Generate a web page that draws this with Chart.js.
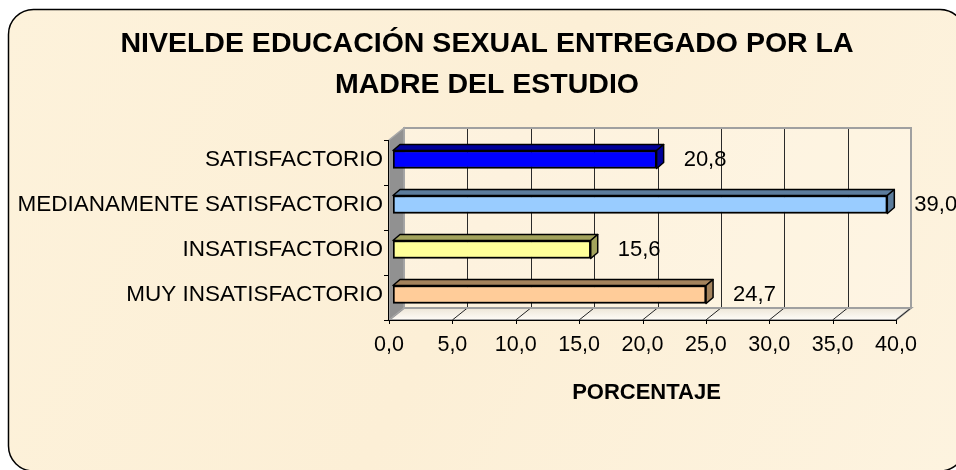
<!DOCTYPE html>
<html><head><meta charset="utf-8">
<script src="https://cdn.jsdelivr.net/npm/chart.js@4/dist/chart.umd.min.js"></script>
<style>html,body{margin:0;padding:0;background:#fff;}#wrap{width:956px;height:470px;}</style>
</head><body><div id="wrap"><canvas id="c" width="956" height="470"></canvas></div>
<script>
const categories = ['SATISFACTORIO', 'MEDIANAMENTE SATISFACTORIO', 'INSATISFACTORIO', 'MUY INSATISFACTORIO'];
const percentages = [20.8, 39.0, 15.6, 24.7];
const axisTicks = [0, 5, 10, 15, 20, 25, 30, 35, 40];
const titleLines = ['NIVELDE EDUCACIÓN SEXUAL ENTREGADO POR LA', 'MADRE DEL ESTUDIO'];
const axisTitle = 'PORCENTAJE';

const fmt = v => Number(v).toFixed(1).replace('.', ',');
const FONT = '"Liberation Sans", Arial, sans-serif';
const FX = -4, FY = 3, DX = 15, DY = -12;   // front plane offset and wall depth
const BDX = 7, BDY = -6;                    // bar depth
const faceColors = ['#00009A', '#5C7C9C', '#A3A35C', '#A3825C'];

const bgPlugin = {
  id: 'bg',
  beforeDraw(chart) {
    const ctx = chart.ctx;
    ctx.save();
    ctx.fillStyle = '#ffffff';
    ctx.fillRect(0, 0, chart.width, chart.height);
    const l = 8.5, t = 9.5, r = 965, b = 471, rad = 25;
    ctx.beginPath();
    ctx.moveTo(l + rad, t);
    ctx.lineTo(r - rad, t);
    ctx.arcTo(r, t, r, t + rad, rad);
    ctx.lineTo(r, b - rad);
    ctx.arcTo(r, b, r - rad, b, rad);
    ctx.lineTo(l + rad, b);
    ctx.arcTo(l, b, l, b - rad, rad);
    ctx.lineTo(l, t + rad);
    ctx.arcTo(l, t, l + rad, t, rad);
    ctx.closePath();
    const g = ctx.createLinearGradient(0, 0, 956, 470);
    g.addColorStop(0, '#FDF2DB');
    g.addColorStop(0.5, '#FCEFD6');
    g.addColorStop(1, '#FDF3DF');
    ctx.fillStyle = g;
    ctx.fill();
    ctx.lineWidth = 1.5;
    ctx.strokeStyle = '#000';
    ctx.stroke();
    ctx.restore();
  }
};

const framePlugin = {
  id: 'frame3d',
  beforeDatasetsDraw(chart) {
    const ctx = chart.ctx, a = chart.chartArea, xs = chart.scales.x;
    const px = v => xs.getPixelForValue(v);
    const lo = axisTicks[0], hi = axisTicks[axisTicks.length - 1];
    const fx0 = px(lo) + FX, fx1 = px(hi) + FX, fy0 = a.top + FY, fy1 = a.bottom + FY;
    const bx0 = fx0 + DX, bx1 = fx1 + DX, by0 = fy0 + DY, by1 = fy1 + DY;
    ctx.save();
    ctx.fillStyle = 'rgba(255,250,238,0.35)';
    ctx.fillRect(bx0, by0, bx1 - bx0, by1 - by0);
    ctx.strokeStyle = '#2a2a2a';
    ctx.lineWidth = 1;
    axisTicks.forEach(v => {
      const X = Math.round(px(v) + FX + DX) + 0.5;
      ctx.beginPath(); ctx.moveTo(X, by0); ctx.lineTo(X, by1); ctx.stroke();
    });
    ctx.beginPath();
    ctx.moveTo(fx0, fy1); ctx.lineTo(bx0, by1); ctx.lineTo(bx1, by1); ctx.lineTo(fx1, fy1); ctx.closePath();
    const fg = ctx.createLinearGradient(0, by1, 0, fy1);
    fg.addColorStop(0, 'rgba(235,228,214,0.9)');
    fg.addColorStop(1, 'rgba(255,255,255,0.8)');
    ctx.fillStyle = fg; ctx.fill();
    ctx.strokeStyle = '#a0a0a0'; ctx.lineWidth = 2; ctx.stroke();
    ctx.strokeStyle = '#222'; ctx.lineWidth = 1;
    axisTicks.forEach(v => {
      const X = px(v) + FX;
      ctx.beginPath(); ctx.moveTo(X, fy1); ctx.lineTo(X + DX, by1); ctx.stroke();
    });
    ctx.strokeStyle = '#a0a0a0'; ctx.lineWidth = 2;
    ctx.strokeRect(bx0, by0, bx1 - bx0, by1 - by0);
    ctx.beginPath();
    ctx.moveTo(fx0, fy0); ctx.lineTo(bx0, by0); ctx.lineTo(bx0, by1); ctx.lineTo(fx0, fy1); ctx.closePath();
    ctx.fillStyle = '#919191'; ctx.fill();
    ctx.strokeStyle = '#a8a8a8'; ctx.lineWidth = 1.5; ctx.stroke();
    ctx.strokeStyle = '#000'; ctx.lineWidth = 1;
    ctx.beginPath(); ctx.moveTo(fx0 - 0.5, fy0); ctx.lineTo(fx0 - 0.5, fy1 + 0.5); ctx.lineTo(fx1, fy1 + 0.5); ctx.stroke();
    axisTicks.forEach(v => {
      const X = Math.round(px(v) + FX) + 0.5;
      ctx.beginPath(); ctx.moveTo(X, fy1); ctx.lineTo(X, fy1 + 4); ctx.stroke();
    });
    const n = categories.length;
    for (let i = 0; i <= n; i++) {
      const Y = Math.round(fy0 + i * (fy1 - fy0) / n) + 0.5;
      ctx.beginPath(); ctx.moveTo(fx0 - 5, Y); ctx.lineTo(fx0, Y); ctx.stroke();
    }
    ctx.restore();
  },
  afterDatasetsDraw(chart) {
    const ctx = chart.ctx;
    const meta = chart.getDatasetMeta(0);
    ctx.save();
    meta.data.forEach((bar, i) => {
      const p = bar.getProps(['x', 'y', 'base', 'height'], true);
      const top = p.y - p.height / 2, bottom = p.y + p.height / 2;
      ctx.lineJoin = 'round';
      ctx.strokeStyle = '#000'; ctx.lineWidth = 1.5;
      ctx.fillStyle = faceColors[i];
      ctx.beginPath();
      ctx.moveTo(p.base, top); ctx.lineTo(p.base + BDX, top + BDY); ctx.lineTo(p.x + BDX, top + BDY); ctx.lineTo(p.x, top); ctx.closePath();
      ctx.fill(); ctx.stroke();
      ctx.beginPath();
      ctx.moveTo(p.x, top); ctx.lineTo(p.x + BDX, top + BDY); ctx.lineTo(p.x + BDX, bottom + BDY); ctx.lineTo(p.x, bottom); ctx.closePath();
      ctx.fill(); ctx.stroke();
      ctx.fillStyle = '#000';
      ctx.font = '22px ' + FONT;
      ctx.textAlign = 'left';
      ctx.textBaseline = 'middle';
      ctx.fillText(fmt(percentages[i]), p.x + 27, p.y);
    });
    ctx.restore();
  }
};

new Chart(document.getElementById('c'), {
  type: 'bar',
  data: {
    labels: categories,
    datasets: [{
      data: percentages,
      backgroundColor: ['#0000FF', '#99CCFF', '#FFFF99', '#FFCC99'],
      borderColor: '#000',
      borderWidth: 2,
      borderSkipped: false,
      barThickness: 18
    }]
  },
  options: {
    indexAxis: 'y',
    responsive: false,
    devicePixelRatio: 1,
    animation: false,
    layout: { padding: { left: 12, right: -6, top: 0, bottom: 0 } },
    plugins: {
      legend: { display: false },
      tooltip: { enabled: false },
      title: {
        display: true,
        text: titleLines,
        color: '#000',
        font: { family: FONT, size: 28.5, weight: 'bold', lineHeight: 41 / 28.5 },
        padding: { top: 24, bottom: 31 }
      }
    },
    scales: {
      x: {
        type: 'linear',
        min: axisTicks[0],
        max: axisTicks[axisTicks.length - 1],
        afterBuildTicks: s => { s.ticks = axisTicks.map(v => ({ value: v })); },
        afterFit: s => { s.height = 153; },
        grid: { display: false, drawTicks: false },
        border: { display: false },
        ticks: {
          color: '#000',
          font: { family: FONT, size: 21.5 },
          padding: 15,
          labelOffset: FX,
          maxRotation: 0,
          callback: v => fmt(v)
        },
        title: {
          display: true,
          text: axisTitle,
          color: '#000',
          font: { family: FONT, size: 22, weight: 'bold' },
          padding: { top: 0, bottom: 64 }
        }
      },
      y: {
        type: 'category',
        afterFit: s => { s.width = 381; },
        grid: { display: false, drawTicks: false },
        border: { display: false },
        ticks: {
          color: '#000',
          font: { family: FONT, size: 22.5 },
          padding: 10
        }
      },
      yRight: {
        type: 'category',
        position: 'right',
        display: true,
        afterFit: s => { s.width = 62; },
        grid: { display: false, drawTicks: false },
        border: { display: false },
        ticks: { display: false }
      }
    }
  },
  plugins: [bgPlugin, framePlugin]
});
</script>
</body></html>
